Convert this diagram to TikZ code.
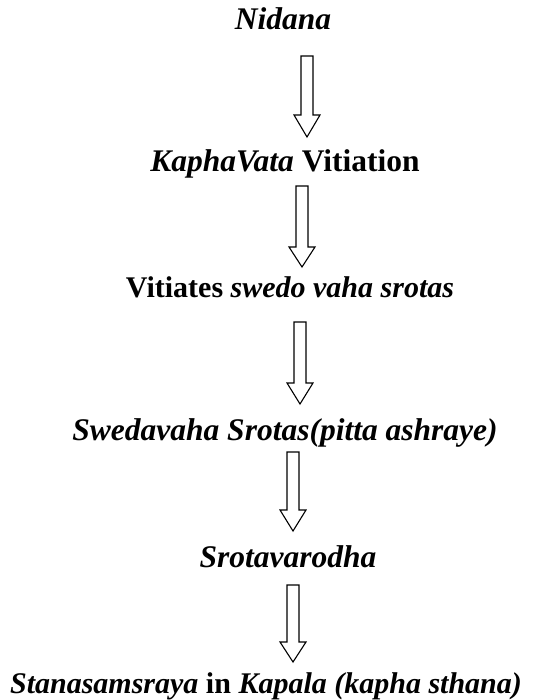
\documentclass[tikz,border=0pt]{standalone}
\usepackage{fontspec}
\setmainfont{Liberation Serif}
\tikzset{
  lbl/.style={anchor=base, inner sep=0pt, font=\fontsize{31.5}{36}\selectfont\bfseries},
  lblsm/.style={lbl, font=\fontsize{30}{36}\selectfont\bfseries},
  arr/.style={draw=black, line width=1.1pt, fill=white, line join=miter}
}
\newcommand\blkarrow[4]{%
  \draw[arr] ({#1-6},#2) -- ({#1+6},#2) -- ({#1+6},#3) -- ({#1+13},#3) -- (#1,#4)
    -- ({#1-13},#3) -- ({#1-6},#3) -- cycle;}
\begin{document}
\begin{tikzpicture}[x=1pt,y=-1pt]
  \useasboundingbox (0,0) rectangle (556,700);
  \node[lbl] (n1) at (283,30) {\itshape Nidana};
  \node[lbl] (n2) at (285,172) {\textit{KaphaVata} Vitiation};
  \node[lblsm] (n3) at (290,297) {Vitiates \textit{swedo vaha srotas}};
  \node[lbl] (n4) at (285,440) {\itshape Swedavaha Srotas(pitta ashraye)};
  \node[lbl] (n5) at (288,567) {\itshape Srotavarodha};
  \node[lblsm] (n6) at (266,693) {\textit{Stanasamsraya} in \textit{Kapala (kapha sthana)}};
  \blkarrow{307}{56}{115}{137}
  \blkarrow{302}{186}{247}{267}
  \blkarrow{300}{322}{383}{404}
  \blkarrow{293}{452}{510}{531}
  \blkarrow{293}{585}{642}{662}
\end{tikzpicture}
\end{document}
